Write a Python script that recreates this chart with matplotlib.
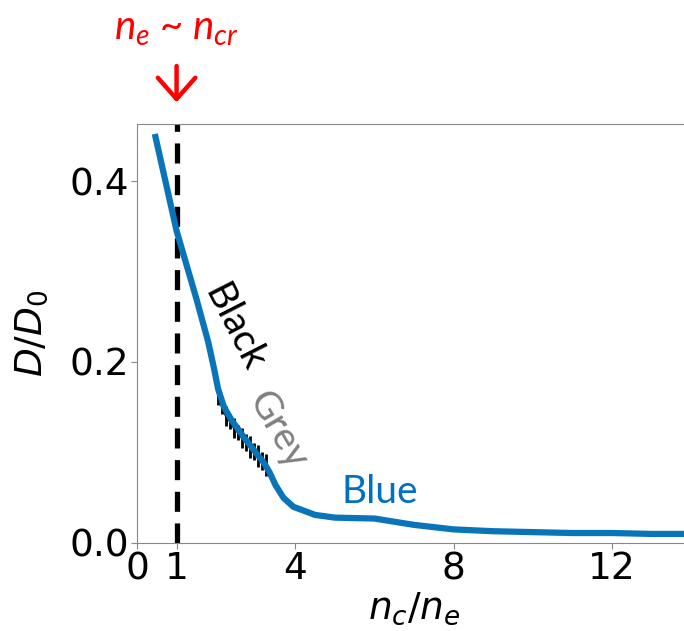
import matplotlib
matplotlib.use("Agg")
import matplotlib.pyplot as plt

# diffusion ratio vs density ratio
nc_ne = [0.45, 1.0, 1.5, 1.8, 1.95, 2.05, 2.2, 2.4, 2.75, 3.0, 3.2, 3.35, 3.5,
         3.7, 3.95, 4.5, 5.0, 6.0, 7.0, 8.0, 9.0, 10.0, 11.0, 12.0, 13.0, 14.0]
d_ratio = [0.452, 0.345, 0.27, 0.222, 0.192, 0.170, 0.150, 0.135, 0.114, 0.100,
           0.089, 0.078, 0.064, 0.050, 0.040, 0.031, 0.028, 0.027, 0.020, 0.015,
           0.013, 0.012, 0.011, 0.011, 0.010, 0.010]

# black/grey runs with error bars
err_x = [2.05, 2.15, 2.25, 2.35, 2.45, 2.55, 2.65, 2.75, 2.85, 2.95, 3.05, 3.15, 3.25]
err_y = [0.162, 0.150, 0.140, 0.134, 0.127, 0.122, 0.116, 0.111, 0.106, 0.101, 0.096, 0.091, 0.086]
err_size = [0.010, 0.008, 0.011, 0.008, 0.011, 0.008, 0.011, 0.009, 0.012, 0.009, 0.012, 0.010, 0.012]

n_cr = 1.0
xticks = [0, 1, 4, 8, 12]
yticks = [0.0, 0.2, 0.4]

plt.rcParams["mathtext.fontset"] = "dejavusans"
plt.rcParams["mathtext.it"] = "Lato:italic"

fig = plt.figure(figsize=(6.84, 6.31), dpi=100)
ax = fig.add_axes([0.2003, 0.1395, 0.81, 0.664])

ax.errorbar(err_x, err_y, yerr=err_size, color="black", lw=1.5, elinewidth=2.0,
            capsize=0, zorder=2)
ax.plot(nc_ne, d_ratio, color="#0a74b8", lw=4.5, solid_capstyle="butt",
        solid_joinstyle="round", zorder=3)
ax.axvline(n_cr, color="black", lw=3.8, dashes=(3.8, 2.2), zorder=1)

ax.set_xlim(0, 14)
ax.set_ylim(0, 0.463)
ax.set_xticks(xticks)
ax.set_yticks(yticks)
ax.set_yticklabels(["%.1f" % v for v in yticks])
ax.tick_params(labelsize=27, color="#888888", length=4, pad=2)
for s in ax.spines.values():
    s.set_color("#888888")

ax.set_xlabel("$n_c/n_e$", fontsize=27, labelpad=2)
ax.set_ylabel("$D/D_0$", fontsize=27, labelpad=14)

ax.text(2.45, 0.238, "Black", fontsize=28, family="Lato", color="black",
        rotation=-63, ha="center", va="center")
ax.text(3.56, 0.125, "Grey", fontsize=28, family="Lato", color="#808080",
        rotation=-60, ha="center", va="center")
ax.text(6.14, 0.0565, "Blue", fontsize=28, family="Lato", color="#0070c0",
        ha="center", va="center")

# critical density marker above the axes
ax.annotate("", xy=(n_cr, 1.045), xycoords=("data", "axes fraction"),
            xytext=(n_cr, 1.145), textcoords=("data", "axes fraction"),
            arrowprops=dict(arrowstyle="->,head_length=0.85,head_width=0.75",
                            mutation_scale=18, color="red", lw=3.2),
            annotation_clip=False)
ax.text(n_cr, 1.225, "$n_e$ ~ $n_{cr}$", transform=ax.get_xaxis_transform(),
        fontsize=29, color="red", family="Lato", style="italic",
        math_fontfamily="custom", ha="center", va="center")

fig.savefig("out.png", dpi=100)
